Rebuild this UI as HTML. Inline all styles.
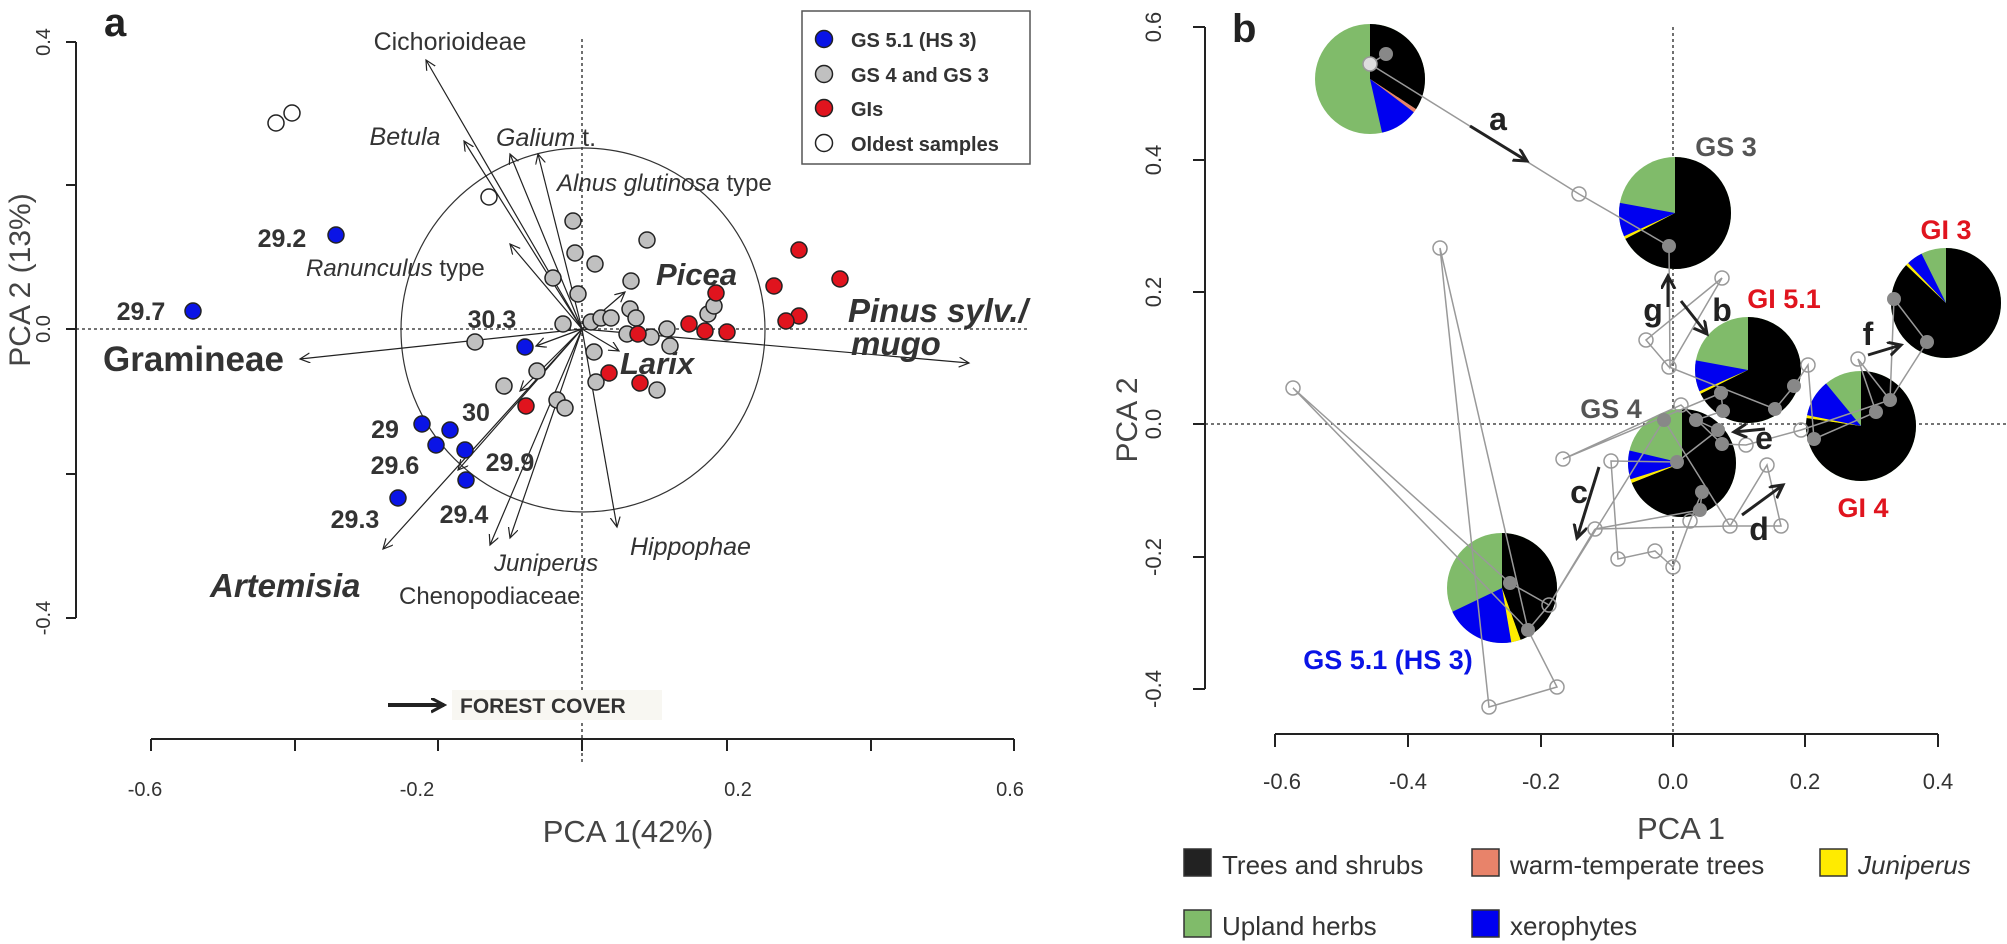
<!DOCTYPE html>
<html><head><meta charset="utf-8"><style>
html,body{margin:0;padding:0;background:#fff;}
svg{display:block;font-family:"Liberation Sans",Arial,sans-serif;}
</style></head><body>
<svg width="2007" height="944" viewBox="0 0 2007 944" xmlns="http://www.w3.org/2000/svg">
<defs>
<marker id="ah" markerWidth="12" markerHeight="12" refX="10" refY="5" orient="auto" markerUnits="userSpaceOnUse"><path d="M0,0 L10,5 L0,10" fill="none" stroke="#222" stroke-width="1.2"/></marker>
<marker id="ahb" markerWidth="16" markerHeight="16" refX="13" refY="7" orient="auto" markerUnits="userSpaceOnUse"><path d="M0,0 L13,7 L0,14" fill="none" stroke="#222" stroke-width="3"/></marker>
</defs>
<!-- ================= PANEL A ================= -->
<text x="104" y="36" font-size="40" font-weight="bold" fill="#222">a</text>
<line x1="76" y1="42" x2="76" y2="618" stroke="#222" stroke-width="2"/>
<g stroke="#222" stroke-width="2">
<line x1="66" y1="42" x2="76" y2="42"/><line x1="66" y1="185" x2="76" y2="185"/><line x1="66" y1="329" x2="76" y2="329"/><line x1="66" y1="474" x2="76" y2="474"/><line x1="66" y1="618" x2="76" y2="618"/>
</g>
<g font-size="20" fill="#333" text-anchor="middle">
<text transform="translate(50,42) rotate(-90)">0.4</text>
<text transform="translate(50,329) rotate(-90)">0.0</text>
<text transform="translate(50,618) rotate(-90)">-0.4</text>
</g>
<text transform="translate(30,280) rotate(-90)" font-size="30" fill="#444" text-anchor="middle">PCA 2 (13%)</text>
<line x1="151" y1="739" x2="1014" y2="739" stroke="#222" stroke-width="2"/>
<g stroke="#222" stroke-width="2">
<line x1="151" y1="739" x2="151" y2="751"/><line x1="295" y1="739" x2="295" y2="751"/><line x1="438" y1="739" x2="438" y2="751"/><line x1="582" y1="739" x2="582" y2="751"/><line x1="727" y1="739" x2="727" y2="751"/><line x1="871" y1="739" x2="871" y2="751"/><line x1="1014" y1="739" x2="1014" y2="751"/>
</g>
<g font-size="20" fill="#333" text-anchor="middle">
<text x="145" y="796">-0.6</text><text x="417" y="796">-0.2</text><text x="738" y="796">0.2</text><text x="1010" y="796">0.6</text>
</g>
<text x="628" y="842" font-size="31" fill="#444" text-anchor="middle">PCA 1(42%)</text>
<line x1="582" y1="39" x2="582" y2="762" stroke="#222" stroke-width="1.3" stroke-dasharray="3,3"/>
<line x1="76" y1="329" x2="1030" y2="329" stroke="#222" stroke-width="1.3" stroke-dasharray="3,3"/>
<circle cx="583" cy="330" r="182" fill="none" stroke="#333" stroke-width="1.2"/>
<!-- arrows -->
<g stroke="#222" stroke-width="1.2" marker-end="url(#ah)">
<line x1="582" y1="329" x2="426" y2="60"/>
<line x1="582" y1="329" x2="464" y2="141"/>
<line x1="582" y1="329" x2="510" y2="154"/>
<line x1="582" y1="329" x2="538" y2="154"/>
<line x1="582" y1="329" x2="510" y2="244"/>
<line x1="582" y1="329" x2="300" y2="359"/>
<line x1="582" y1="329" x2="969" y2="363"/>
<line x1="582" y1="329" x2="625" y2="292"/>
<line x1="582" y1="329" x2="619" y2="351"/>
<line x1="582" y1="329" x2="617" y2="527"/>
<line x1="582" y1="329" x2="490" y2="545"/>
<line x1="582" y1="329" x2="510" y2="538"/>
<line x1="582" y1="329" x2="383" y2="549"/>
<line x1="582" y1="329" x2="458" y2="470"/>
<line x1="582" y1="329" x2="536" y2="346"/>
<line x1="582" y1="329" x2="520" y2="391"/>
</g>
<!-- points -->
<g stroke="#222" stroke-width="1.5">
<g fill="#fff"><circle cx="276" cy="123" r="8"/><circle cx="292" cy="113" r="8"/><circle cx="489" cy="197" r="8"/></g>
<g fill="#c0c0c0">
<circle cx="573" cy="221" r="8"/><circle cx="575" cy="253" r="8"/><circle cx="595" cy="264" r="8"/><circle cx="553" cy="278" r="8"/><circle cx="578" cy="294" r="8"/><circle cx="563" cy="324" r="8"/><circle cx="591" cy="322" r="8"/><circle cx="601" cy="318" r="8"/><circle cx="611" cy="318" r="8"/><circle cx="647" cy="240" r="8"/><circle cx="631" cy="281" r="8"/><circle cx="630" cy="309" r="8"/><circle cx="636" cy="318" r="8"/><circle cx="627" cy="334" r="8"/><circle cx="651" cy="337" r="8"/><circle cx="667" cy="329" r="8"/><circle cx="670" cy="346" r="8"/><circle cx="594" cy="352" r="8"/><circle cx="596" cy="382" r="8"/><circle cx="657" cy="390" r="8"/><circle cx="475" cy="342" r="8"/><circle cx="537" cy="371" r="8"/><circle cx="504" cy="386" r="8"/><circle cx="557" cy="400" r="8"/><circle cx="565" cy="408" r="8"/><circle cx="708" cy="314" r="8"/><circle cx="714" cy="306" r="8"/>
</g>
<g fill="#e0141e">
<circle cx="799" cy="250" r="8"/><circle cx="774" cy="286" r="8"/><circle cx="840" cy="279" r="8"/><circle cx="716" cy="293" r="8"/><circle cx="799" cy="316" r="8"/><circle cx="786" cy="321" r="8"/><circle cx="689" cy="324" r="8"/><circle cx="705" cy="331" r="8"/><circle cx="727" cy="332" r="8"/><circle cx="638" cy="334" r="8"/><circle cx="609" cy="373" r="8"/><circle cx="640" cy="383" r="8"/><circle cx="526" cy="406" r="8"/>
</g>
<g fill="#0a14e6">
<circle cx="193" cy="311" r="8"/><circle cx="336" cy="235" r="8"/><circle cx="525" cy="347" r="8"/><circle cx="422" cy="424" r="8"/><circle cx="450" cy="430" r="8"/><circle cx="436" cy="445" r="8"/><circle cx="465" cy="450" r="8"/><circle cx="466" cy="480" r="8"/><circle cx="398" cy="498" r="8"/>
</g>
</g>
<!-- species labels -->
<g fill="#333" font-size="25">
<text x="450" y="50" text-anchor="middle">Cichorioideae</text>
<text x="405" y="145" text-anchor="middle" font-style="italic">Betula</text>
<text x="496" y="146"><tspan font-style="italic">Galium</tspan> t.</text>
<text x="557" y="191" font-size="24"><tspan font-style="italic">Alnus glutinosa</tspan> type</text>
<text x="306" y="276" font-size="24"><tspan font-style="italic">Ranunculus</tspan> type</text>
<text x="630" y="555" font-style="italic">Hippophae</text>
<text x="494" y="571" font-style="italic" font-size="24">Juniperus</text>
<text x="399" y="604" font-size="24">Chenopodiaceae</text>
</g>
<g fill="#333" font-weight="bold">
<text x="103" y="371" font-size="35">Gramineae</text>
<text x="210" y="597" font-size="33" font-style="italic">Artemisia</text>
<text x="848" y="322" font-size="33" font-style="italic">Pinus sylv./</text>
<text x="851" y="355" font-size="33" font-style="italic">mugo</text>
<text x="656" y="285" font-size="31" font-style="italic">Picea</text>
<text x="620" y="374" font-size="31" font-style="italic">Larix</text>
</g>
<g fill="#333" font-weight="bold" font-size="25" text-anchor="middle">
<text x="141" y="320">29.7</text><text x="282" y="247">29.2</text><text x="492" y="328">30.3</text><text x="476" y="421">30</text><text x="385" y="438">29</text><text x="395" y="474">29.6</text><text x="510" y="471">29.9</text><text x="355" y="528">29.3</text><text x="464" y="523">29.4</text>
</g>
<!-- legend -->
<rect x="802" y="11" width="228" height="153" fill="#fff" stroke="#555" stroke-width="1.5"/>
<g stroke="#222" stroke-width="1.5">
<circle cx="824" cy="39" r="8.5" fill="#0a14e6"/><circle cx="824" cy="74" r="8.5" fill="#c0c0c0"/><circle cx="824" cy="108" r="8.5" fill="#e0141e"/><circle cx="824" cy="143" r="8.5" fill="#fff"/>
</g>
<g fill="#333" font-weight="bold" font-size="20">
<text x="851" y="47">GS 5.1 (HS 3)</text><text x="851" y="82">GS 4 and GS 3</text><text x="851" y="116">GIs</text><text x="851" y="151">Oldest samples</text>
</g>
<!-- forest cover -->
<rect x="452" y="690" width="210" height="30" fill="#f8f7f2"/>
<line x1="388" y1="705" x2="444" y2="705" stroke="#222" stroke-width="4" marker-end="url(#ahb)"/>
<text x="460" y="713" font-size="21" font-weight="bold" fill="#333">FOREST COVER</text>

<!-- ================= PANEL B ================= -->
<text x="1232" y="42" font-size="40" font-weight="bold" fill="#222">b</text>
<line x1="1205" y1="27" x2="1205" y2="689" stroke="#222" stroke-width="2"/>
<g stroke="#222" stroke-width="2">
<line x1="1193" y1="27" x2="1205" y2="27"/><line x1="1193" y1="160" x2="1205" y2="160"/><line x1="1193" y1="292" x2="1205" y2="292"/><line x1="1193" y1="424" x2="1205" y2="424"/><line x1="1193" y1="557" x2="1205" y2="557"/><line x1="1193" y1="689" x2="1205" y2="689"/>
</g>
<g font-size="22" fill="#333" text-anchor="middle">
<text transform="translate(1161,27) rotate(-90)">0.6</text>
<text transform="translate(1161,160) rotate(-90)">0.4</text>
<text transform="translate(1161,292) rotate(-90)">0.2</text>
<text transform="translate(1161,424) rotate(-90)">0.0</text>
<text transform="translate(1161,557) rotate(-90)">-0.2</text>
<text transform="translate(1161,689) rotate(-90)">-0.4</text>
</g>
<text transform="translate(1137,420) rotate(-90)" font-size="30" fill="#444" text-anchor="middle">PCA 2</text>
<line x1="1275" y1="734" x2="1938" y2="734" stroke="#222" stroke-width="2"/>
<g stroke="#222" stroke-width="2">
<line x1="1275" y1="734" x2="1275" y2="747"/><line x1="1408" y1="734" x2="1408" y2="747"/><line x1="1541" y1="734" x2="1541" y2="747"/><line x1="1673" y1="734" x2="1673" y2="747"/><line x1="1805" y1="734" x2="1805" y2="747"/><line x1="1938" y1="734" x2="1938" y2="747"/>
</g>
<g font-size="22" fill="#333" text-anchor="middle">
<text x="1282" y="789">-0.6</text><text x="1408" y="789">-0.4</text><text x="1541" y="789">-0.2</text><text x="1673" y="789">0.0</text><text x="1805" y="789">0.2</text><text x="1938" y="789">0.4</text>
</g>
<text x="1681" y="839" font-size="31" fill="#444" text-anchor="middle">PCA 1</text>
<line x1="1673" y1="27" x2="1673" y2="740" stroke="#222" stroke-width="1.3" stroke-dasharray="3,3"/>
<line x1="1205" y1="424" x2="2007" y2="424" stroke="#222" stroke-width="1.3" stroke-dasharray="3,3"/>

<!-- pies -->
<g>
<circle cx="1370" cy="79" r="55" fill="#80bb6a"/>
<g fill="none" stroke-width="55" transform="rotate(-90 1370 79)">
<circle cx="1370" cy="79" r="27.5" stroke="#000" stroke-dasharray="59.04 1000"/>
<circle cx="1370" cy="79" r="27.5" stroke="#e8836a" stroke-dasharray="1.92 1000" stroke-dashoffset="-59.04"/>
<circle cx="1370" cy="79" r="27.5" stroke="#0000f0" stroke-dasharray="19.2 1000" stroke-dashoffset="-60.96"/>
</g>
<circle cx="1675" cy="213" r="56" fill="#80bb6a"/>
<g fill="none" stroke-width="56" transform="rotate(-90 1675 213)">
<circle cx="1675" cy="213" r="28" stroke="#000" stroke-dasharray="118.26 1000"/>
<circle cx="1675" cy="213" r="28" stroke="#ffeb00" stroke-dasharray="1.47 1000" stroke-dashoffset="-118.26"/>
<circle cx="1675" cy="213" r="28" stroke="#0000f0" stroke-dasharray="17.1 1000" stroke-dashoffset="-119.73"/>
</g>
<circle cx="1748" cy="370" r="53" fill="#80bb6a"/>
<g fill="none" stroke-width="53" transform="rotate(-90 1748 370)">
<circle cx="1748" cy="370" r="26.5" stroke="#000" stroke-dasharray="112.39 1000"/>
<circle cx="1748" cy="370" r="26.5" stroke="#ffeb00" stroke-dasharray="1.39 1000" stroke-dashoffset="-112.39"/>
<circle cx="1748" cy="370" r="26.5" stroke="#0000f0" stroke-dasharray="15.73 1000" stroke-dashoffset="-113.78"/>
</g>
<circle cx="1682" cy="463" r="54" fill="#80bb6a"/>
<g fill="none" stroke-width="54" transform="rotate(-90 1682 463)">
<circle cx="1682" cy="463" r="27" stroke="#000" stroke-dasharray="116.87 1000"/>
<circle cx="1682" cy="463" r="27" stroke="#ffeb00" stroke-dasharray="1.885 1000" stroke-dashoffset="-116.87"/>
<circle cx="1682" cy="463" r="27" stroke="#0000f0" stroke-dasharray="14.61 1000" stroke-dashoffset="-118.75"/>
</g>
<circle cx="1861" cy="426" r="55" fill="#80bb6a"/>
<g fill="none" stroke-width="55" transform="rotate(-90 1861 426)">
<circle cx="1861" cy="426" r="27.5" stroke="#000" stroke-dasharray="133.43 1000"/>
<circle cx="1861" cy="426" r="27.5" stroke="#ffeb00" stroke-dasharray="1.44 1000" stroke-dashoffset="-133.43"/>
<circle cx="1861" cy="426" r="27.5" stroke="#0000f0" stroke-dasharray="18.72 1000" stroke-dashoffset="-134.87"/>
</g>
<circle cx="1946" cy="303" r="55" fill="#80bb6a"/>
<g fill="none" stroke-width="55" transform="rotate(-90 1946 303)">
<circle cx="1946" cy="303" r="27.5" stroke="#000" stroke-dasharray="150.24 1000"/>
<circle cx="1946" cy="303" r="27.5" stroke="#ffeb00" stroke-dasharray="1.44 1000" stroke-dashoffset="-150.24"/>
<circle cx="1946" cy="303" r="27.5" stroke="#0000f0" stroke-dasharray="8.16 1000" stroke-dashoffset="-151.68"/>
</g>
<circle cx="1502" cy="588" r="55" fill="#80bb6a"/>
<g fill="none" stroke-width="55" transform="rotate(-90 1502 588)">
<circle cx="1502" cy="588" r="27.5" stroke="#000" stroke-dasharray="76.8 1000"/>
<circle cx="1502" cy="588" r="27.5" stroke="#ffeb00" stroke-dasharray="4.8 1000" stroke-dashoffset="-76.8"/>
<circle cx="1502" cy="588" r="27.5" stroke="#0000f0" stroke-dasharray="35.52 1000" stroke-dashoffset="-81.6"/>
</g>
</g>

<!-- trajectory -->
<polyline fill="none" stroke="#999" stroke-width="1.5" points="1386,54 1370,64 1579,194 1669,246 1670,367 1722,278 1646,340 1669,367 1775,409 1794,386 1808,365 1814,439 1876,412 1858,359 1890,400 1894,299 1927,342 1890,400 1801,430 1746,445 1722,444 1681,405 1563,459 1721,393 1723,411 1696,420 1718,430 1677,462 1611,461 1618,559 1655,551 1673,567 1690,521 1702,492 1700,510 1595,529 1730,526 1767,465 1781,526 1730,526 1664,420 1549,605 1510,583 1293,388 1528,630 1440,248 1489,707 1557,687 1528,630 1549,605 1595,529"/>
<g fill="none" stroke="#999" stroke-width="1.5">
<circle cx="1370" cy="64" r="7" fill="#ddd"/><circle cx="1579" cy="194" r="7"/><circle cx="1440" cy="248" r="7"/><circle cx="1293" cy="388" r="7"/><circle cx="1722" cy="278" r="7"/><circle cx="1646" cy="340" r="7"/><circle cx="1669" cy="367" r="7"/><circle cx="1808" cy="365" r="7"/><circle cx="1858" cy="359" r="7"/><circle cx="1681" cy="405" r="7"/><circle cx="1563" cy="459" r="7"/><circle cx="1611" cy="461" r="7"/><circle cx="1767" cy="465" r="7"/><circle cx="1746" cy="445" r="7"/><circle cx="1801" cy="430" r="7"/><circle cx="1595" cy="529" r="7"/><circle cx="1730" cy="526" r="7"/><circle cx="1781" cy="526" r="7"/><circle cx="1690" cy="521" r="7"/><circle cx="1618" cy="559" r="7"/><circle cx="1655" cy="551" r="7"/><circle cx="1673" cy="567" r="7"/><circle cx="1557" cy="687" r="7"/><circle cx="1489" cy="707" r="7"/><circle cx="1549" cy="605" r="7"/>
</g>
<g fill="#888">
<circle cx="1386" cy="54" r="7"/><circle cx="1669" cy="246" r="7"/><circle cx="1794" cy="386" r="7"/><circle cx="1775" cy="409" r="7"/><circle cx="1723" cy="411" r="7"/><circle cx="1721" cy="393" r="7"/><circle cx="1696" cy="420" r="7"/><circle cx="1718" cy="430" r="7"/><circle cx="1722" cy="444" r="7"/><circle cx="1677" cy="462" r="7"/><circle cx="1702" cy="492" r="7"/><circle cx="1700" cy="510" r="7"/><circle cx="1814" cy="439" r="7"/><circle cx="1876" cy="412" r="7"/><circle cx="1890" cy="400" r="7"/><circle cx="1894" cy="299" r="7"/><circle cx="1927" cy="342" r="7"/><circle cx="1510" cy="583" r="7"/><circle cx="1528" cy="630" r="7"/><circle cx="1664" cy="420" r="7"/>
</g>
<!-- bold arrows -->
<g stroke="#222" stroke-width="3" marker-end="url(#ahb)">
<line x1="1470" y1="126" x2="1527" y2="161"/>
<line x1="1668" y1="307" x2="1668" y2="276"/>
<line x1="1681" y1="301" x2="1707" y2="334"/>
<line x1="1868" y1="355" x2="1901" y2="345"/>
<line x1="1765" y1="429" x2="1734" y2="432"/>
<line x1="1599" y1="467" x2="1577" y2="538"/>
<line x1="1742" y1="515" x2="1783" y2="485"/>
</g>
<g font-weight="bold" font-size="32" fill="#222" text-anchor="middle">
<text x="1498" y="130">a</text><text x="1653" y="321">g</text><text x="1722" y="321">b</text><text x="1868" y="345">f</text><text x="1764" y="449">e</text><text x="1579" y="503">c</text><text x="1759" y="540">d</text>
</g>
<g font-weight="bold" font-size="27" text-anchor="middle">
<text x="1726" y="156" fill="#555">GS 3</text>
<text x="1946" y="239" fill="#e0141e">GI 3</text>
<text x="1784" y="308" fill="#e0141e">GI 5.1</text>
<text x="1611" y="418" fill="#555">GS 4</text>
<text x="1863" y="517" fill="#e0141e">GI 4</text>
<text x="1388" y="669" fill="#0a14e6">GS 5.1 (HS 3)</text>
</g>
<!-- bottom legend -->
<g stroke="#333" stroke-width="1.5">
<rect x="1184" y="849" width="27" height="27" fill="#222"/>
<rect x="1472" y="849" width="27" height="27" fill="#e8836a"/>
<rect x="1820" y="849" width="27" height="27" fill="#ffeb00"/>
<rect x="1184" y="910" width="27" height="27" fill="#80bb6a"/>
<rect x="1472" y="910" width="27" height="27" fill="#0000f0"/>
</g>
<g font-size="26" fill="#333">
<text x="1222" y="874">Trees and shrubs</text>
<text x="1510" y="874">warm-temperate trees</text>
<text x="1858" y="874" font-style="italic">Juniperus</text>
<text x="1222" y="935">Upland herbs</text>
<text x="1510" y="935">xerophytes</text>
</g>
</svg>
</body></html>
